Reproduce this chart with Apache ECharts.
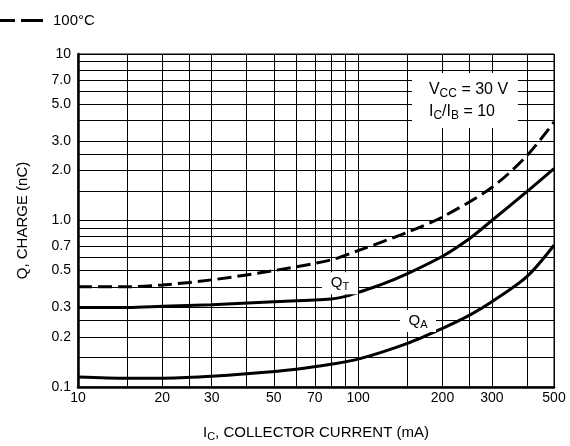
<!DOCTYPE html>
<html><head><meta charset="utf-8">
<script src="https://cdn.jsdelivr.net/npm/echarts@6/dist/echarts.min.js"></script>
<style>html,body{margin:0;padding:0;background:#fff}#c{width:570px;height:446px}</style>
</head><body><div id="c"></div>
<script>
// axis grid and tick values
const xGridValues = [10,15,20,25,30,40,50,60,70,80,90,100,150,200,250,300,400,500];
const xTickValues = [10,20,30,50,70,100,200,300,500];
const xTickLabels = ['10','20','30','50','70','100','200','300','500'];
const yGridValues = [0.1,0.15,0.2,0.25,0.3,0.4,0.5,0.6,0.7,0.8,0.9,1,1.5,2,2.5,3,4,5,6,7,8,9,10];
const yTickValues = [0.1,0.2,0.3,0.5,0.7,1,2,3,5,7,10];
const yTickLabels = ['0.1','0.2','0.3','0.5','0.7','1.0','2.0','3.0','5.0','7.0','10'];

// series: IC (mA) vs Q (nC)
const hotCurrent = [10,15,20,30,50,80,100,150,200,300,400,500];
const hotCharge  = [0.40,0.40,0.41,0.44,0.50,0.58,0.66,0.85,1.05,1.58,2.45,3.9];
const qtCurrent  = [10,15,20,30,50,80,90,100,120,150,200,250,300,400,500];
const qtCharge   = [0.30,0.30,0.305,0.312,0.325,0.338,0.35,0.37,0.41,0.48,0.61,0.78,1.0,1.49,2.05];
const qaCurrent  = [10,15,20,30,40,60,80,100,150,200,250,300,400,500];
const qaCharge   = [0.115,0.113,0.113,0.116,0.12,0.128,0.137,0.147,0.183,0.225,0.27,0.325,0.46,0.71];

const FONT = 'Liberation Sans, Arial, sans-serif';
function zip(a,b){return a.map((v,i)=>[v,b[i]]);}
function lookup(vals, labels, v){
  for (let i=0;i<vals.length;i++){ if (Math.abs(vals[i]-v) < vals[i]*1e-6) return labels[i]; }
  return '';
}
const subRich = {
  n: {fontSize: 15, fontFamily: FONT, color: '#000'},
  s: {fontSize: 11, fontFamily: FONT, color: '#000', padding: [8,0,0,0]}
};
const noteRich = {
  n: {fontSize: 16, fontFamily: FONT, color: '#000'},
  s: {fontSize: 12, fontFamily: FONT, color: '#000', padding: [8,0,0,0]}
};

const chart = echarts.init(document.getElementById('c'), null, {renderer: 'canvas'});
chart.setOption({
  animation: false,
  backgroundColor: '#fff',
  textStyle: {fontFamily: FONT},
  grid: {left: 78, right: 16, top: 54, bottom: 59, show: true, borderColor: '#000', borderWidth: 1, outerBoundsMode: 'none'},
  legend: {
    data: [{name: '100°C', icon: 'path://M0,0L22,0L22,3L0,3ZM28,0L50,0L50,3L28,3Z'}],
    left: -12, top: 8, itemWidth: 50, itemHeight: 3,
    itemStyle: {color: '#000'},
    textStyle: {fontSize: 15, color: '#000', fontFamily: FONT, padding: [0,0,0,5]}
  },
  xAxis: {
    type: 'log', logBase: 10, min: 10, max: 500,
    name: '{n|I}{s|C}{n|, COLLECTOR CURRENT (mA)}',
    nameLocation: 'middle', nameGap: 36,
    nameTextStyle: {rich: subRich},
    axisLine: {show: true, lineStyle: {color: '#000', width: 2.5}},
    axisTick: {show: false, customValues: xGridValues},
    splitLine: {show: true, lineStyle: {color: '#000', width: 1}},
    minorTick: {show: false}, minorSplitLine: {show: false},
    axisLabel: {customValues: xTickValues, margin: 4, fontSize: 14, color: '#000', fontFamily: FONT,
      formatter: v => lookup(xTickValues, xTickLabels, v)}
  },
  yAxis: {
    type: 'log', logBase: 10, min: 0.1, max: 10,
    name: 'Q, CHARGE (nC)', nameLocation: 'middle', nameRotate: 90, nameGap: 48,
    nameTextStyle: {fontSize: 15, color: '#000', fontFamily: FONT},
    axisLine: {show: true, lineStyle: {color: '#000', width: 2.5}},
    axisTick: {show: false, customValues: yGridValues},
    splitLine: {show: true, lineStyle: {color: '#000', width: 1}},
    minorTick: {show: false}, minorSplitLine: {show: false},
    axisLabel: {customValues: yTickValues, margin: 7, fontSize: 14, color: '#000', fontFamily: FONT,
      formatter: v => lookup(yTickValues, yTickLabels, v)}
  },
  series: [
    {
      name: '100°C', type: 'line', data: zip(hotCurrent, hotCharge), smooth: 0.3,
      symbol: 'none', lineStyle: {color: '#000', width: 3, type: [14, 6]}, itemStyle: {color: '#000'}
    },
    {
      name: 'QT', type: 'line', data: zip(qtCurrent, qtCharge), smooth: 0.3,
      symbol: 'none', lineStyle: {color: '#000', width: 3}, itemStyle: {color: '#000'},
      markPoint: {
        silent: true, animation: false,
        data: [
          {coord: [240.5, 5.26], symbol: 'rect', symbolSize: [106, 55], itemStyle: {color: '#fff'},
           label: {show: true, position: 'inside', align: 'left', offset: [-36, 0], lineHeight: 22,
             formatter: '{n|V}{s|CC}{n| = 30 V}\n{n|I}{s|C}{n|/I}{s|B}{n| = 10}', rich: noteRich}},
          {coord: [86.1, 0.42], symbol: 'rect', symbolSize: [36, 22], itemStyle: {color: '#fff'},
           label: {show: true, position: 'inside', formatter: '{n|Q}{s|T}', rich: subRich}},
          {coord: [163.5, 0.249], symbol: 'rect', symbolSize: [36, 22], itemStyle: {color: '#fff'},
           label: {show: true, position: 'inside', formatter: '{n|Q}{s|A}', rich: subRich}}
        ]
      }
    },
    {
      name: 'QA', type: 'line', data: zip(qaCurrent, qaCharge), smooth: 0.3,
      symbol: 'none', lineStyle: {color: '#000', width: 3}, itemStyle: {color: '#000'}
    }
  ]
});
</script>
</body></html>
